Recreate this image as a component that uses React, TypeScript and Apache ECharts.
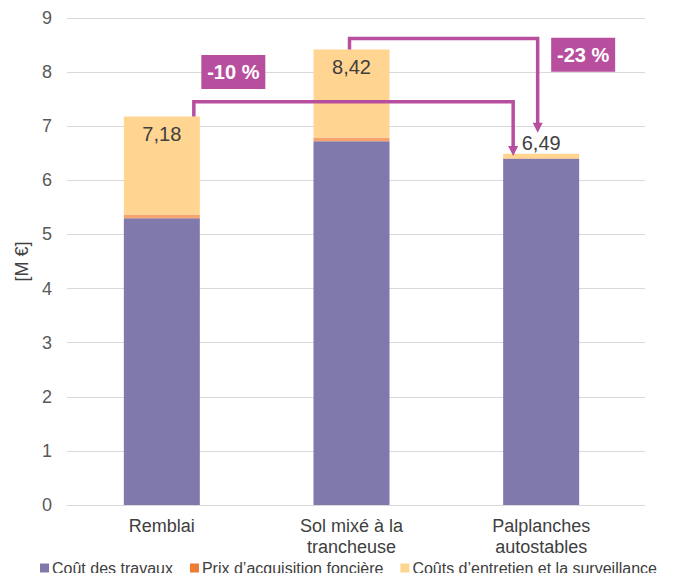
import React, { useEffect, useRef } from "react";
import * as echarts from "echarts";

const categories = ["Remblai", "Sol mixé à la\ntrancheuse", "Palplanches\nautostables"];
const seriesNames = ["Coût des travaux", "Prix d’acquisition foncière", "Coûts d’entretien et la surveillance"];
const travaux = [5.30, 6.72, 6.40];
const fonciere = [0.07, 0.07, 0.01];
const entretien = [1.81, 1.63, 0.08];
const totals = ["7,18", "8,42", "6,49"];
const yTicks = [0, 1, 2, 3, 4, 5, 6, 7, 8, 9];

const connectors = [
  { label: "-10 %", from: 0, to: 2, start: 7.18, level: 7.45, end: 6.45 },
  { label: "-23 %", from: 1, to: 2, start: 8.42, level: 8.62, end: 6.88 },
];
// annotation placement (pixel offsets from category centres, and label anchor values)
const connectorStyle = [
  { fromDx: 32, toDx: -28, boxCat: 0, boxDx: 71.5, boxVal: 8.0 },
  { fromDx: -2, toDx: -3.5, boxCat: 2, boxDx: 42, boxVal: 8.32 },
];

const PURPLE = "#8079ab";
const ORANGE = "#ed7d31";
const BAND = "#f4a46c";
const YELLOW = "#ffd591";
const MAGENTA = "#b84f9e";
const FONT = "Liberation Sans, Arial, sans-serif";
const legendColors = [PURPLE, ORANGE, YELLOW];

export default function App() {
  const ref = useRef<HTMLDivElement>(null);
  useEffect(() => {
    const chart = echarts.init(ref.current!, null, { renderer: "svg" });
    chart.setOption({
      animation: false,
      textStyle: { fontFamily: FONT },
      grid: [
        { left: 67, right: 39, top: 18, bottom: 76 },
        { left: 67, right: 30, top: 18, bottom: 76 },
      ],
      legend: {
        bottom: 5,
        left: 40,
        padding: 0,
        icon: "rect",
        itemWidth: 9,
        itemHeight: 9,
        itemGap: 17,
        textStyle: { fontSize: 16, color: "#404040", fontFamily: FONT, padding: [0, 0, 0, -2] },
        data: seriesNames.map((n, i) => ({ name: n, itemStyle: { color: legendColors[i] } })),
      },
      xAxis: [
        {
          type: "category",
          gridIndex: 0,
          data: categories,
          axisLine: { lineStyle: { color: "#d9d9d9", width: 1 } },
          axisTick: { show: false },
          axisLabel: { fontSize: 18, color: "#404040", lineHeight: 21, margin: 10, fontFamily: FONT },
        },
        {
          type: "value",
          gridIndex: 1,
          show: false,
        },
      ],
      yAxis: [
        {
          type: "value",
          gridIndex: 0,
          min: yTicks[0],
          max: yTicks[yTicks.length - 1],
          interval: 1,
          name: "[M €]",
          nameLocation: "middle",
          nameGap: 36,
          nameTextStyle: { fontSize: 18, color: "#404040", fontFamily: FONT },
          axisLine: { show: false },
          axisTick: { show: false },
          axisLabel: { fontSize: 18, color: "#595959", margin: 15, fontFamily: FONT },
          splitLine: { show: false },
        },
        {
          type: "value",
          gridIndex: 1,
          min: yTicks[0],
          max: yTicks[yTicks.length - 1],
          interval: 1,
          axisLine: { show: false },
          axisTick: { show: false },
          axisLabel: { show: false },
          splitLine: { lineStyle: { color: "#d9d9d9", width: 1 } },
          z: 0,
        },
      ],
      series: [
        {
          name: seriesNames[0],
          type: "bar",
          stack: "total",
          barWidth: 76,
          data: travaux,
          itemStyle: { color: PURPLE },
        },
        {
          name: seriesNames[1],
          type: "bar",
          stack: "total",
          data: fonciere,
          itemStyle: { color: BAND },
        },
        {
          name: seriesNames[2],
          type: "bar",
          stack: "total",
          data: entretien.map((v, i) =>
            i === 2
              ? { value: v, label: { position: "top", distance: 1 } }
              : { value: v }
          ),
          itemStyle: { color: YELLOW },
          label: {
            show: true,
            position: "insideTop",
            distance: 8,
            fontSize: 20,
            color: "#404040",
            fontFamily: FONT,
            formatter: (p: any) => totals[p.dataIndex],
          },
        },
        {
          type: "custom",
          clip: false,
          z: 10,
          silent: true,
          data: connectors.map((c) => [c.from, c.level]),
          renderItem: (params: any, api: any) => {
            const c = connectors[params.dataIndex];
            const s = connectorStyle[params.dataIndex];
            const p0 = api.coord([c.from, c.start]);
            const pl = api.coord([c.from, c.level]);
            const pe = api.coord([c.to, c.end]);
            const x0 = p0[0] + s.fromDx;
            const x1 = pe[0] + s.toDx;
            const yl = pl[1];
            const tipY = pe[1];
            const ah = 10;
            const aw = 5;
            const box = api.coord([s.boxCat, s.boxVal]);
            const bx = box[0] + s.boxDx;
            const by = box[1];
            return {
              type: "group",
              children: [
                {
                  type: "polyline",
                  shape: { points: [[x0, p0[1]], [x0, yl], [x1, yl], [x1, tipY - ah + 1]] },
                  style: { stroke: MAGENTA, lineWidth: 3.5, fill: null, lineJoin: "miter" },
                },
                {
                  type: "polygon",
                  shape: { points: [[x1 - aw, tipY - ah], [x1 + aw, tipY - ah], [x1, tipY]] },
                  style: { fill: MAGENTA },
                },
                {
                  type: "rect",
                  shape: { x: bx - 32, y: by - 17, width: 64, height: 34 },
                  style: { fill: MAGENTA },
                },
                {
                  type: "text",
                  x: bx,
                  y: by,
                  style: {
                    text: c.label,
                    fill: "#ffffff",
                    font: `bold 20px ${FONT}`,
                    align: "center",
                    verticalAlign: "middle",
                  },
                },
              ],
            };
          },
        },
      ],
    });
    return () => chart.dispose();
  }, []);
  return <div ref={ref} style={{ width: 675, height: 581, margin: -8 }} />;
}
